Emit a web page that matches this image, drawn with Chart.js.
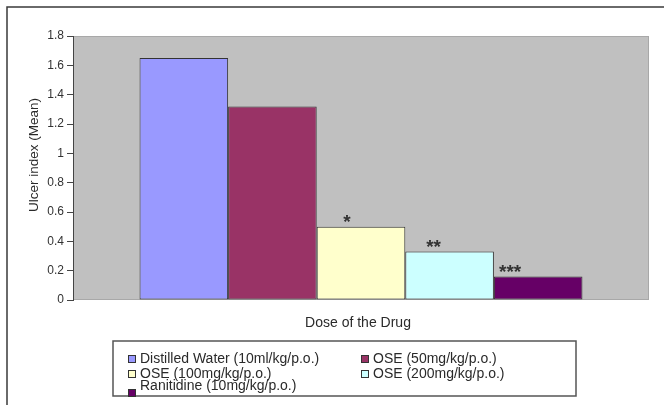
<!DOCTYPE html>
<html>
<head>
<meta charset="utf-8">
<script src="https://cdn.jsdelivr.net/npm/chart.js@4/dist/chart.umd.min.js"></script>
<style>
  html, body { margin: 0; padding: 0; background: #fff; }
  #wrap { width: 664px; height: 405px; position: relative; }
</style>
</head>
<body>
<div id="wrap"><canvas id="chart" width="664" height="405"></canvas></div>
<script>
// Treatment groups and their mean ulcer index
const groups = [
  'Distilled Water (10ml/kg/p.o.)',
  'OSE (50mg/kg/p.o.)',
  'OSE (100mg/kg/p.o.)',
  'OSE (200mg/kg/p.o.)',
  'Ranitidine (10mg/kg/p.o.)'
];
const ulcerIndex = [1.65, 1.32, 0.50, 0.33, 0.16];
const significance = ['', '', '*', '**', '***'];
const groupColors = ['#9999FF', '#993366', '#FFFFCC', '#CCFFFF', '#660066'];
const yTicks = [0, 0.2, 0.4, 0.6, 0.8, 1, 1.2, 1.4, 1.6, 1.8];

const FONT = '"Liberation Sans", Arial, sans-serif';

// Grey plot background and outer frame
const frame = {
  id: 'frame',
  beforeDraw(chart) {
    const { ctx, chartArea: a } = chart;
    ctx.save();
    ctx.fillStyle = '#ffffff';
    ctx.fillRect(0, 0, chart.width, chart.height);
    ctx.strokeStyle = '#3a3a3a';
    ctx.lineWidth = 1.5;
    ctx.beginPath();
    ctx.moveTo(7, chart.height);
    ctx.lineTo(7, 7);
    ctx.lineTo(chart.width, 7);
    ctx.stroke();
    ctx.fillStyle = '#c0c0c0';
    ctx.fillRect(a.left, a.top, a.right - a.left, a.bottom - a.top);
    ctx.strokeStyle = '#a8a8a8';
    ctx.lineWidth = 1;
    ctx.strokeRect(a.left + 0.5, a.top + 0.5, a.right - a.left - 1, a.bottom - a.top - 1);
    ctx.restore();
  }
};

// Significance stars, axis titles and the boxed legend
const annotations = {
  id: 'annotations',
  afterDraw(chart, args, opts) {
    const { ctx, chartArea: a } = chart;
    ctx.save();
    ctx.fillStyle = '#333';
    ctx.font = 'bold 19px ' + FONT;
    ctx.textAlign = 'center';
    ctx.textBaseline = 'alphabetic';
    significance.forEach((s, i) => {
      if (!s) return;
      const bar = chart.getDatasetMeta(i).data[0];
      ctx.fillText(s, bar.x + opts.starShift[i], bar.y + 1);
    });

    // axis titles
    ctx.fillStyle = '#2a2a2a';
    ctx.font = '14px ' + FONT;
    ctx.textBaseline = 'middle';
    ctx.fillText('Dose of the Drug', (a.left + a.right) / 2 - 3, 323);
    ctx.save();
    ctx.font = '13.5px ' + FONT;
    ctx.translate(34, 155);
    ctx.rotate(-Math.PI / 2);
    ctx.fillText('Ulcer index (Mean)', 0, 0);
    ctx.restore();

    // legend box
    const L = opts.legend;
    ctx.strokeStyle = '#555';
    ctx.lineWidth = 1.5;
    ctx.strokeRect(L.x, L.y, L.w, L.h);
    ctx.textAlign = 'left';
    ctx.lineWidth = 1;
    ctx.font = '14px ' + FONT;
    L.items.forEach((it, i) => {
      const sy = it.swatchY !== undefined ? it.swatchY : it.y;
      ctx.fillStyle = groupColors[i];
      ctx.fillRect(it.x, sy - 4, 8, 8);
      ctx.strokeStyle = '#333';
      ctx.strokeRect(it.x + 0.5, sy - 3.5, 7, 7);
      ctx.fillStyle = '#2a2a2a';
      ctx.fillText(groups[i], it.x + 12, it.y);
    });
    ctx.restore();
  }
};

const datasets = groups.map((g, i) => ({
  label: g,
  data: [ulcerIndex[i]],
  backgroundColor: groupColors[i],
  borderColor: '#333333',
  borderWidth: 1,
  borderSkipped: false,
  categoryPercentage: 0.769,
  barPercentage: 1.0
}));

new Chart(document.getElementById('chart'), {
  type: 'bar',
  data: { labels: [''], datasets },
  plugins: [frame, annotations],
  options: {
    responsive: false,
    animation: false,
    devicePixelRatio: 1,
    layout: { padding: { left: 0, top: 36, right: 15, bottom: 105 } },
    plugins: {
      legend: { display: false },
      tooltip: { enabled: false },
      annotations: {
        starShift: [0, 0, -14, -16, -28],
        legend: {
          x: 113, y: 341, w: 463, h: 55,
          items: [
            { x: 128, y: 359 },
            { x: 361, y: 359 },
            { x: 128, y: 374 },
            { x: 361, y: 374 },
            { x: 128, y: 386, swatchY: 393 }
          ]
        }
      }
    },
    scales: {
      x: { display: false },
      y: {
        min: 0,
        max: 1.8,
        afterFit(scale) { scale.width = 73; },
        afterBuildTicks(scale) { scale.ticks = yTicks.map(v => ({ value: v })); },
        ticks: {
          font: { family: FONT, size: 12 },
          color: '#333',
          padding: 3,
          callback: v => String(Number(v.toFixed(1)))
        },
        grid: { drawOnChartArea: false, drawTicks: true, tickLength: 6, color: '#444' },
        border: { display: true, color: '#444' }
      }
    }
  }
});
</script>
</body>
</html>
